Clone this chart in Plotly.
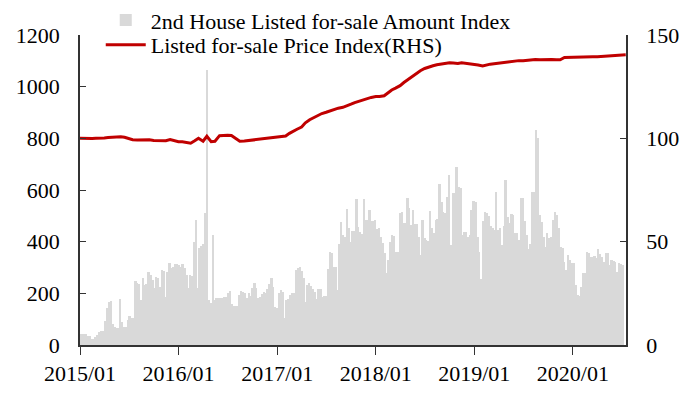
import pandas as pd
import plotly.graph_objects as go

# Weekly "2nd House Listed for-sale Amount Index" (left axis)
amount_2015 = [41, 41, 41, 41, 36, 35, 25, 23, 30, 40, 52, 53, 55, 94, 142, 168, 170, 80, 70, 67,
               67, 177, 90, 70, 68, 95, 112, 105, 103, 248, 241, 238, 174, 258, 232, 235, 284, 270, 252, 219,
               262, 258, 226, 290, 285, 187, 284, 319, 297, 303, 312, 312]
amount_2016 = [310, 303, 312, 300, 271, 219, 271, 267, 397, 484, 219, 374, 383, 390, 510, 1065, 174, 161, 426, 174,
               181, 181, 181, 181, 185, 187, 200, 209, 160, 151, 151, 150, 194, 209, 205, 200, 181, 200,
               190, 220, 239, 220, 181, 187, 196, 205, 200, 215, 235, 258, 226, 148]
amount_2017 = [145, 200, 213, 206, 103, 174, 180, 194, 200, 203, 290, 297, 301, 285, 258, 168, 232, 239, 228, 215,
               206, 177, 215, 215, 187, 190, 190, 293, 361, 355, 301, 301, 213, 391, 477, 426, 419, 525, 452, 400,
               443, 443, 564, 455, 439, 430, 564, 484, 484, 523, 481, 481]
amount_2018 = [484, 448, 452, 420, 396, 357, 277, 329, 400, 426, 422, 361, 361, 512, 516, 471, 471, 568, 529, 464,
               523, 468, 468, 420, 348, 484, 413, 406, 404, 520, 452, 432, 484, 486, 623, 555, 516, 510, 574, 658,
               387, 587, 587, 690, 610, 606, 426, 439, 439, 419, 426, 523]
amount_2019 = [559, 555, 420, 361, 254, 481, 516, 510, 500, 461, 454, 445, 594, 445, 452, 387, 461, 639, 497, 471,
               507, 503, 432, 432, 406, 568, 568, 480, 426, 370, 391, 594, 594, 832, 800, 503, 477, 419, 381, 432,
               413, 419, 484, 516, 503, 452, 381, 374, 320, 290, 348, 329]
amount_2020 = [316, 319, 232, 194, 190, 226, 277, 280, 361, 357, 342, 339, 344, 335, 370, 352, 339, 323, 355, 355,
               310, 329, 326, 323, 284, 316, 314, 310]

# Semi-monthly "Listed for-sale Price Index" (right axis)
price_2015 = [100.0, 99.9, 99.8, 99.9, 100.0, 100.0, 100.2, 100.4, 100.5, 100.8, 100.8, 100.5,
              100.0, 99.3, 99.2, 99.3, 99.4, 99.3, 99.0, 98.9, 99.0, 98.8, 99.4, 98.8]
price_2016 = [98.4, 98.3, 98.0, 97.6, 98.8, 100.0, 98.6, 101.0, 98.4, 98.6, 101.3, 101.5,
              101.5, 101.4, 99.8, 98.6, 98.7, 98.9, 99.2, 99.4, 99.7, 100.0, 100.3, 100.4]
price_2017 = [100.6, 100.8, 101.1, 102.4, 103.5, 104.4, 105.5, 107.5, 109.0, 110.0, 111.0, 112.0,
              112.6, 113.3, 114.0, 114.6, 115.0, 115.6, 116.5, 117.3, 118.0, 118.7, 119.4, 119.8]
price_2018 = [120.2, 120.2, 120.6, 122.0, 123.4, 124.3, 125.5, 127.0, 128.5, 129.9, 131.5, 132.7,
              133.8, 134.5, 135.1, 135.6, 136.0, 136.3, 136.6, 136.4, 136.2, 136.6, 136.4, 136.2]
price_2019 = [136.0, 135.5, 135.0, 135.6, 135.9, 136.1, 136.4, 136.6, 136.8, 137.2, 137.4, 137.6,
              137.5, 137.8, 138.0, 138.2, 138.0, 138.1, 138.2, 138.1, 138.0, 138.0, 139.1, 139.2]
price_2020 = [139.2, 139.3, 139.2, 139.3, 139.4, 139.5, 139.5, 139.6, 139.7, 139.8, 139.9, 140.0,
              140.2, 140.4]

amount = amount_2015 + amount_2016 + amount_2017 + amount_2018 + amount_2019 + amount_2020
price = price_2015 + price_2016 + price_2017 + price_2018 + price_2019 + price_2020

amount_dates = pd.date_range("2015-01-04", periods=len(amount), freq="7D")
price_dates = pd.date_range("2015-01-01", periods=len(price), freq="SMS")

FONT = "Liberation Serif, Times New Roman, serif"

fig = go.Figure()
fig.add_trace(go.Bar(
    x=amount_dates, y=amount,
    name="2nd House Listed for-sale Amount Index",
    marker=dict(color="#d9d9d9", line=dict(width=0)),
    width=7 * 24 * 3600 * 1000,
    legend="legend",
))
fig.add_trace(go.Scatter(
    x=price_dates, y=price, yaxis="y2", mode="lines",
    name="Listed for-sale Price Index(RHS)",
    line=dict(color="#c00000", width=3),
    legend="legend2",
))

leg_common = dict(xanchor="left", yanchor="middle", bgcolor="rgba(0,0,0,0)",
                  font=dict(size=22, family=FONT), itemwidth=40)

fig.update_layout(
    width=700, height=393,
    margin=dict(l=72, r=82, t=27, b=56, autoexpand=False),
    paper_bgcolor="white", plot_bgcolor="white",
    font=dict(family=FONT, size=22, color="black"),
    bargap=0,
    showlegend=True,
    legend=dict(x=0.038, y=1.048, **leg_common),
    legend2=dict(x=0.038, y=0.968, **leg_common),
    xaxis=dict(
        type="date", range=["2015-01-01", "2020-07-16"],
        tick0="2015-01-01", dtick="M12", tickformat="%Y/%m",
        ticks="outside", ticklen=8, tickcolor="#333",
        showline=True, linecolor="#333", linewidth=1.5,
        showgrid=False, zeroline=False,
    ),
    yaxis=dict(
        range=[0, 1200], dtick=200,
        ticks="inside", ticklen=6, tickcolor="#333",
        showline=True, linecolor="#333", linewidth=1.5,
        showgrid=False, zeroline=False, ticklabelstandoff=14,
    ),
    yaxis2=dict(
        range=[0, 150], dtick=50, overlaying="y", side="right",
        ticks="inside", ticklen=6, tickcolor="#333",
        showline=True, linecolor="#333", linewidth=1.5,
        showgrid=False, zeroline=False, ticklabelstandoff=14,
    ),
)

fig.write_html("out.html")
